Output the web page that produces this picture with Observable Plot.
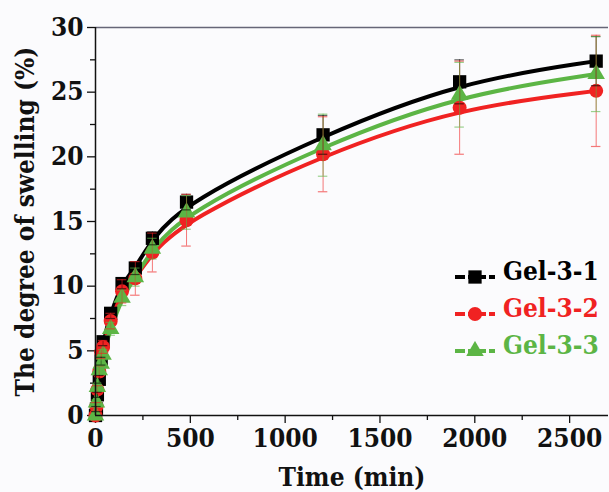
<!DOCTYPE html>
<html><head><meta charset="utf-8">
<script src="https://cdn.jsdelivr.net/npm/d3@7"></script>
<script src="https://cdn.jsdelivr.net/npm/@observablehq/plot@0.6"></script>
<style>
body{margin:0;background:#fbfbfd;}
#wrap{position:relative;width:609px;height:492px;overflow:hidden;}
#legend{position:absolute;left:453px;top:253px;font-weight:bold;font-size:26px;font-family:"DejaVu Serif Condensed","DejaVu Serif",serif;font-stretch:condensed;}
.row{display:flex;align-items:center;height:37px;line-height:37px;white-space:nowrap;}
.row svg{margin-right:6px;position:relative;top:5px;}
svg text{font-stretch:condensed;}
</style></head><body><div id="wrap"></div>
<script>
const names = ["Gel-3-1", "Gel-3-2", "Gel-3-3"];
const colors = ["#000000", "#f02222", "#5cb545"];
const symbols = ["square", "circle", "triangle"];
const sizes = [7.5, 7, 6.5];
const times = [0, 5, 10, 20, 30, 40, 80, 140, 210, 300, 480, 1200, 1920, 2640];
const gel31 = [0, 0.5, 1.6, 2.8, 4.2, 5.7, 7.9, 10.2, 11.4, 13.7, 16.5, 21.7, 25.8, 27.4];
const gel32 = [0, 0.7, 2.0, 3.4, 4.9, 5.3, 7.3, 9.6, 10.6, 12.6, 15.1, 20.2, 23.8, 25.1];
const gel33 = [0, 1.0, 2.2, 3.5, 4.0, 4.7, 6.7, 9.1, 10.7, 12.9, 15.7, 20.9, 24.8, 26.4];
const err31 = [0, 0.2, 0.2, 0.3, 0.3, 0.3, 0.4, 0.4, 0.5, 0.5, 0.6, 1.5, 1.7, 1.9];
const err32 = [0, 0.3, 0.3, 0.4, 0.5, 0.5, 0.6, 0.9, 1.3, 1.5, 2.0, 2.9, 3.6, 4.3];
const err33 = [0, 0.2, 0.3, 0.3, 0.4, 0.4, 0.5, 0.6, 0.7, 0.8, 1.3, 2.4, 2.5, 2.9];
const xMajor = [0, 500, 1000, 1500, 2000, 2500];
const xMinor = [250, 750, 1250, 1750, 2250];
const yMajor = [0, 5, 10, 15, 20, 25, 30];
const yMinor = [2.5, 7.5, 12.5, 17.5, 22.5, 27.5];

const values = [gel31, gel32, gel33];
const errs = [err31, err32, err33];
const rows = names.flatMap((s, i) => times.map((t, j) => ({series: s, t, v: values[i][j], e: errs[i][j], r: sizes[i]})));
const capHalf = 25;
const fam = "'DejaVu Serif Condensed', 'DejaVu Serif', serif";

const chart = Plot.plot({
  width: 609, height: 492,
  marginLeft: 95, marginRight: 1, marginTop: 27, marginBottom: 77,
  x: {domain: [0, 2705]},
  y: {domain: [0, 30]},
  r: {type: "identity"},
  color: {domain: names, range: colors},
  symbol: {domain: names, range: symbols},
  style: {fontFamily: fam, fontWeight: "bold", fontSize: "26px", background: "transparent", color: "#111", overflow: "visible"},
  marks: [
    Plot.axisY({ticks: yMajor, tickSize: 8, tickPadding: 4, strokeWidth: 1.3, label: "The degree of swelling (%)", labelAnchor: "center", labelOffset: 80, labelArrow: "none", fontSize: 26}),
    Plot.axisY({ticks: yMinor, tickSize: 5, strokeWidth: 1.3, tickFormat: () => "", label: null}),
    Plot.axisX({ticks: xMajor, tickSize: 8, tickPadding: 5, strokeWidth: 1.3, tickFormat: d => String(d), label: "Time (min)", labelAnchor: "center", labelOffset: 70, labelArrow: "none", fontSize: 26}),
    Plot.axisX({ticks: xMinor, tickSize: 5, strokeWidth: 1.3, tickFormat: () => "", label: null}),
    Plot.ruleY([30], {stroke: "#667", strokeWidth: 1.5}),
    Plot.line(rows, {x: "t", y: "v", z: "series", stroke: "series", strokeWidth: 4, curve: "basis"}),
    Plot.dot(rows, {x: "t", y: "v", fill: "series", symbol: "series", r: "r"}),
    Plot.ruleX(rows.filter(d => d.e > 0), {x: "t", y1: d => d.v - d.e, y2: d => d.v + d.e, stroke: "series", strokeOpacity: 0.6, strokeWidth: 1}),
    Plot.ruleY(rows.filter(d => d.e > 0), {y: d => d.v + d.e, x1: d => d.t - capHalf, x2: d => d.t + capHalf, stroke: "series", strokeOpacity: 0.6, strokeWidth: 1.2}),
    Plot.ruleY(rows.filter(d => d.e > 0), {y: d => d.v - d.e, x1: d => d.t - capHalf, x2: d => d.t + capHalf, stroke: "series", strokeOpacity: 0.6, strokeWidth: 1.2}),
    Plot.ruleX([0], {strokeWidth: 1.5}),
    Plot.ruleY([0], {strokeWidth: 1.5})
  ]
});
const wrap = document.getElementById("wrap");
wrap.appendChild(chart);

const legend = document.createElement("div");
legend.id = "legend";
names.forEach((n, i) => {
  const row = document.createElement("div");
  row.className = "row";
  row.style.color = colors[i];
  const ns = "http://www.w3.org/2000/svg";
  const svg = document.createElementNS(ns, "svg");
  svg.setAttribute("width", 44); svg.setAttribute("height", 20);
  const ln = document.createElementNS(ns, "line");
  ln.setAttribute("x1", 2); ln.setAttribute("x2", 42); ln.setAttribute("y1", 10); ln.setAttribute("y2", 10);
  ln.setAttribute("stroke", colors[i]); ln.setAttribute("stroke-width", 4);
  ln.setAttribute("stroke-dasharray", "10 3 18 3 10");
  svg.appendChild(ln);
  const p = document.createElementNS(ns, "path");
  p.setAttribute("transform", "translate(22,10)");
  const sym = [d3.symbolSquare, d3.symbolCircle, d3.symbolTriangle][i];
  p.setAttribute("d", d3.symbol(sym, Math.PI * sizes[i] * sizes[i])());
  p.setAttribute("fill", colors[i]);
  svg.appendChild(p);
  row.appendChild(svg);
  const span = document.createElement("span");
  span.textContent = n;
  row.appendChild(span);
  legend.appendChild(row);
});
wrap.appendChild(legend);
</script>
</body></html>
